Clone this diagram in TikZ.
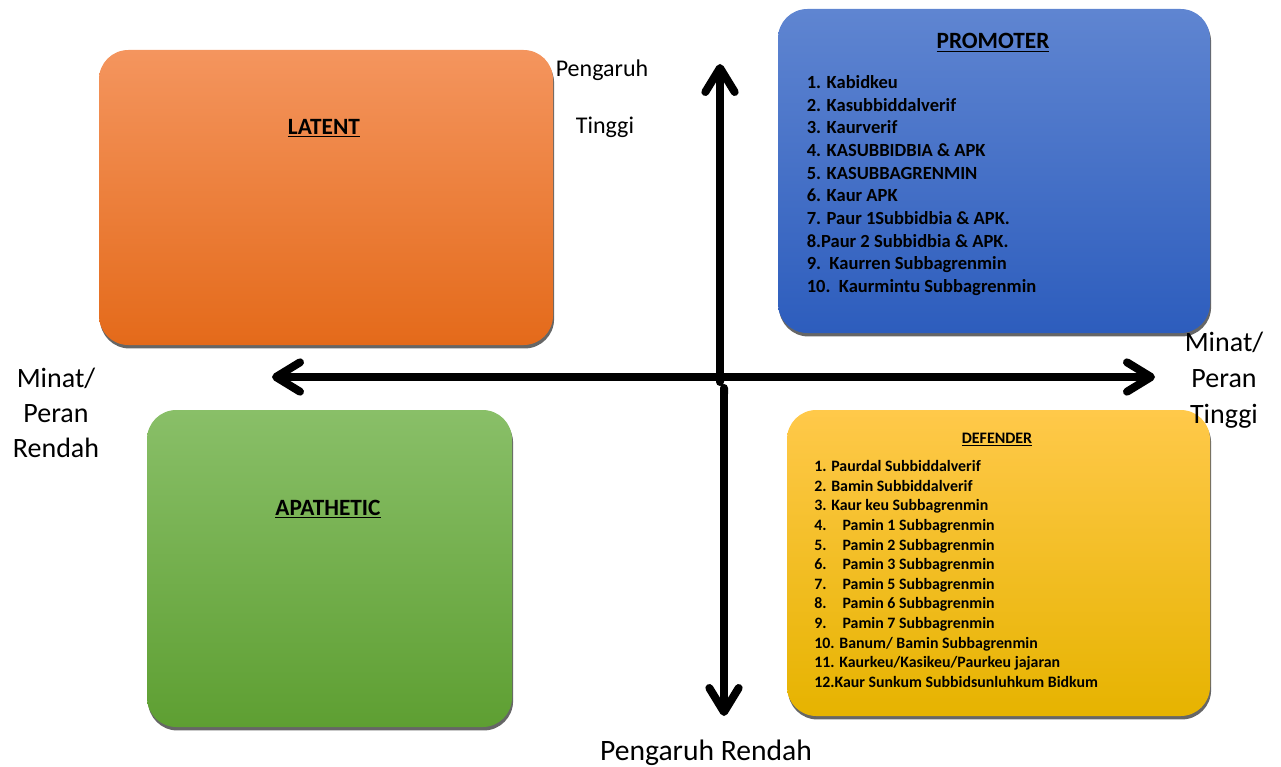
\documentclass[tikz,border=0pt]{standalone}
\usepackage{fontspec}
\setmainfont{Carlito}
\usetikzlibrary{arrows.meta, positioning, shadows}
\definecolor{latentTop}{HTML}{F4955E}
\definecolor{latentBot}{HTML}{E46A1A}
\definecolor{promoTop}{HTML}{5F85D1}
\definecolor{promoBot}{HTML}{2D5DBD}
\definecolor{apaTop}{HTML}{89BF68}
\definecolor{apaBot}{HTML}{5E9F32}
\definecolor{defTop}{HTML}{FFC94A}
\definecolor{defBot}{HTML}{E6B300}

\begin{document}
\begin{tikzpicture}[x=0.75pt, y=-0.75pt,
    quad/.style={rounded corners=22pt, inner sep=0pt,
        drop shadow={shadow xshift=0.8pt, shadow yshift=-2.6pt, fill=black!60, opacity=1}},
    quadTitle/.style={anchor=base, font=\bfseries\fontsize{17.5}{20}\selectfont},
    axisArrow/.style={line width=6pt, {Straight Barb[length=18pt, width=22pt, round]}-{Straight Barb[length=18pt, width=22pt, round]}},
    axisLabel/.style={font=\fontsize{21}{26}\selectfont, align=center}]
    \useasboundingbox (0,0) rectangle (1281,767);

    % Quadrant boxes
    \node[quad, top color=latentTop, bottom color=latentBot, minimum width=340.5pt, minimum height=221.25pt] (latent) at (326,197.5) {};
    \node[quad, top color=promoTop, bottom color=promoBot, minimum width=324pt, minimum height=243pt] (promoter) at (994,171) {};
    \node[quad, top color=apaTop, bottom color=apaBot, minimum width=273.75pt, minimum height=237.75pt] (apathetic) at (329.5,568.5) {};
    \node[quad, top color=defTop, bottom color=defBot, minimum width=317.25pt, minimum height=229.5pt] (defender) at (998.5,563) {};

    % Titles
    \node[quadTitle] (latentTitle) at (324,134.5) {\underline{LATENT}};
    \node[quadTitle] (apaTitle) at (328,515.5) {\underline{APATHETIC}};
    \node[quadTitle] (promoTitle) at (993,49) {\underline{PROMOTER}};
    \node[quadTitle, font=\bfseries\fontsize{12}{14}\selectfont] (defTitle) at (997,443.3) {\underline{DEFENDER}};

    % Promoter list
    \foreach \t [count=\i] in {{1. Kabidkeu}, {2. Kasubbiddalverif}, {3. Kaurverif},
        {4. KASUBBIDBIA \& APK}, {5. KASUBBAGRENMIN}, {6. Kaur APK},
        {7. Paur 1Subbidbia \& APK.}, {8.Paur 2 Subbidbia \& APK.},
        {9.\ \ Kaurren Subbagrenmin}, {10.\ \ Kaurmintu Subbagrenmin}}
        \node[anchor=base west, inner sep=0pt, font=\bfseries\fontsize{13.9}{16}\selectfont] (promo\i) at (806.5,{88.3+22.7*(\i-1)}) {\t};

    % Defender list
    \foreach \t [count=\i] in {{1. Paurdal Subbiddalverif}, {2. Bamin Subbiddalverif},
        {3. Kaur keu Subbagrenmin}, {\makebox[21.2pt][l]{4.}Pamin 1 Subbagrenmin},
        {\makebox[21.2pt][l]{5.}Pamin 2 Subbagrenmin}, {\makebox[21.2pt][l]{6.}Pamin 3 Subbagrenmin},
        {\makebox[21.2pt][l]{7.}Pamin 5 Subbagrenmin}, {\makebox[21.2pt][l]{8.}Pamin 6 Subbagrenmin},
        {\makebox[21.2pt][l]{9.}Pamin 7 Subbagrenmin}, {10. Banum/ Bamin Subbagrenmin},
        {11. Kaurkeu/Kasikeu/Paurkeu jajaran}, {12.Kaur Sunkum Subbidsunluhkum Bidkum}}
        \node[anchor=base west, inner sep=0pt, font=\bfseries\fontsize{11.9}{14}\selectfont] (def\i) at (814,{471.7+19.6*(\i-1)}) {\t};

    % Axes
    \coordinate (left) at (272,377);
    \coordinate (right) at (1155,377);
    \coordinate (top) at (720,64);
    \coordinate (mid) at (720,386);
    \coordinate (midLow) at (724,384);
    \coordinate (bottom) at (724,716);
    \draw[axisArrow, {Round Cap}-{Straight Barb[length=18pt, width=22pt, round]}] (mid) -- (top);
    \draw[axisArrow, {Round Cap}-{Straight Barb[length=18pt, width=22pt, round]}] (midLow) -- (bottom);
    \draw[axisArrow] (left) -- (right);

    % Axis labels
    \node[anchor=base, font=\fontsize{18}{20}\selectfont] (highTop) at (602,76.7) {Pengaruh};
    \node[anchor=base, font=\fontsize{18}{20}\selectfont] (highTop2) at (605,133) {Tinggi};
    \node[anchor=base, font=\fontsize{22.2}{24}\selectfont] (lowBottom) at (706,760) {Pengaruh Rendah};
    \node[axisLabel] (lowLeft) at (56,413) {Minat/\\Peran\\Rendah};
    \node[axisLabel, font=\fontsize{21}{27}\selectfont] (highRight) at (1224,380) {Minat/\\Peran\\Tinggi};
\end{tikzpicture}
\end{document}
